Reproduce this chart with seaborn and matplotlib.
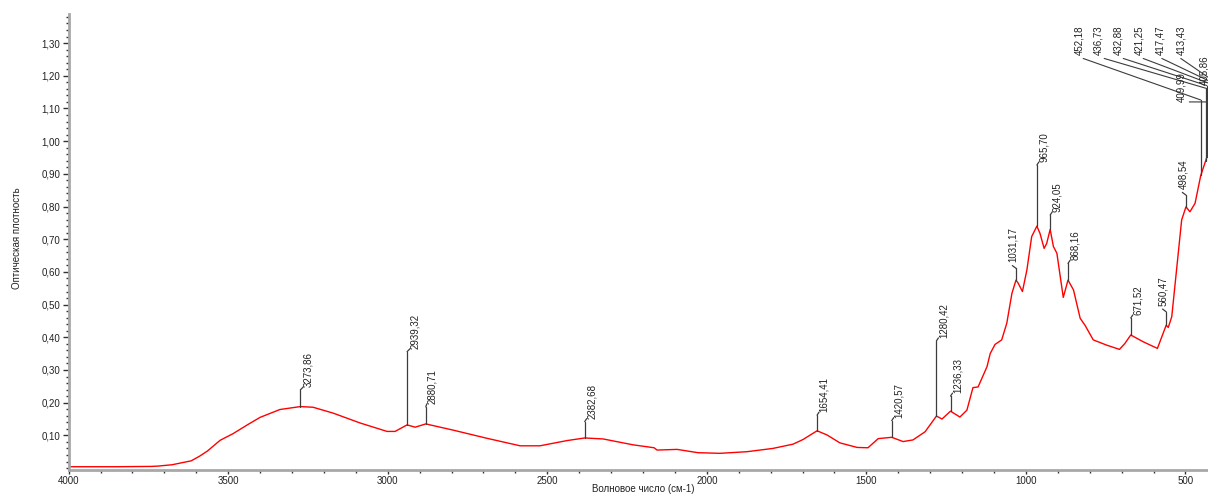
import numpy as np
import matplotlib
matplotlib.use("Agg")
import matplotlib.pyplot as plt
import seaborn as sns
from matplotlib.ticker import MultipleLocator, FixedLocator, FuncFormatter

# ---------------------------------------------- [ data ] ----------------------------------------------
wavenumber = [4000, 3850, 3740, 3720, 3676, 3616, 3590, 3565, 3525, 3505, 3485, 3440, 3400, 3338,
              3273.86, 3234, 3171, 3087, 3002, 2977, 2939.32, 2914, 2880.71, 2795, 2689, 2585, 2523,
              2438, 2382.68, 2325, 2231, 2165, 2156, 2093, 2028, 1959, 1874, 1793, 1730, 1699,
              1654.41, 1623, 1583, 1529, 1495, 1463, 1420.57, 1385, 1354, 1316, 1280.42, 1263,
              1236.33, 1207, 1185, 1166, 1150, 1122, 1112, 1097, 1076, 1060, 1044, 1031.17, 1024,
              1011, 997, 982, 965.70, 956, 943, 935, 924.05, 914, 903, 883, 868.16, 851, 830, 815,
              789, 747, 707, 690, 671.52, 632, 588, 574, 560.47, 554, 543, 527, 512, 498.54, 486,
              470, 452.18, 436.73, 432.88, 421.25, 417.47, 413.43, 409.99, 405.86, 400]
absorbance = [0.004, 0.004, 0.005, 0.006, 0.010, 0.022, 0.036, 0.052, 0.085, 0.095, 0.105, 0.132,
              0.155, 0.179, 0.188, 0.186, 0.168, 0.138, 0.112, 0.112, 0.132, 0.125, 0.135, 0.116,
              0.091, 0.068, 0.068, 0.084, 0.092, 0.089, 0.071, 0.062, 0.055, 0.057, 0.047, 0.045,
              0.050, 0.060, 0.073, 0.087, 0.114, 0.101, 0.077, 0.063, 0.062, 0.090, 0.094, 0.081,
              0.086, 0.111, 0.159, 0.150, 0.174, 0.156, 0.177, 0.246, 0.248, 0.310, 0.350, 0.378,
              0.392, 0.443, 0.534, 0.575, 0.565, 0.540, 0.606, 0.708, 0.740, 0.718, 0.672, 0.687,
              0.730, 0.678, 0.657, 0.522, 0.575, 0.545, 0.458, 0.437, 0.392, 0.376, 0.363, 0.381,
              0.407, 0.386, 0.366, 0.402, 0.437, 0.430, 0.463, 0.616, 0.759, 0.799, 0.784, 0.810,
              0.895, 0.940, 0.952, 0.985, 0.995, 1.005, 1.012, 1.020, 1.030]

peaks = [3273.86, 2939.32, 2880.71, 2382.68, 1654.41, 1420.57, 1280.42, 1236.33, 1031.17,
         965.70, 924.05, 868.16, 671.52, 560.47, 498.54]
group_peaks = [452.18, 436.73, 432.88, 421.25, 417.47, 413.43, 409.99, 405.86]

x_ticks = [4000, 3500, 3000, 2500, 2000, 1500, 1000, 500]
y_ticks = [0.10, 0.20, 0.30, 0.40, 0.50, 0.60, 0.70, 0.80, 0.90, 1.00, 1.10, 1.20, 1.30]

# ------------------------------------------ [ label layout ] ------------------------------------------
label_top = [0.239, 0.356, 0.187, 0.142, 0.162, 0.145, 0.389, 0.220, 0.611, 0.927, 0.774, 0.626,
             0.459, 0.478, 0.835]
label_dx = [8, 8, 6, 7, 7, 7, 7, 7, -3, 7, 7, 7, 7, -3, -3]
label_dy = [3, 3, 3, 3, 3, 3, 3, 3, 6, 3, 3, 3, 3, 6, 6]

group_top = [1.126, 1.162, 1.170, 1.175, 1.180, 1.185, 1.120, 1.171]
group_text_x = [834, 774, 711, 644, 580, 514, 514, 442]
group_text_y = [1.263, 1.263, 1.263, 1.263, 1.263, 1.263, 1.120, 1.171]
group_relpos = [(0, 0), (0, 0), (0, 0), (0, 0), (0, 0), (0, 0), (1, 0), (0.5, 0)]

# ------------------------------------------------ [ plot ] ---------------------------------------------
sns.set_theme(style="white")
plt.rcParams["font.family"] = ["Liberation Sans", "DejaVu Sans"]

W, H = 1208, 496
fig = plt.figure(figsize=(W / 100, H / 100), dpi=100)
ax = fig.add_axes([68.6 / W, 26 / H, 1148.8 / W, 456 / H])

sns.lineplot(x=wavenumber, y=absorbance, color="#ff0000", lw=1, ax=ax, estimator=None, sort=False)

ax.set_xlim(4000, 400)
ax.set_ylim(-0.006, 1.389)

wn_asc = np.array(wavenumber)[::-1]
ab_asc = np.array(absorbance)[::-1]
lead = "#3c3c3c"
txt = "#222222"

def fmt(v):
    return "{0:.2f}".format(v).replace(".", ",")

for p, top, dx, dy in zip(peaks, label_top, label_dx, label_dy):
    y0 = np.interp(p, wn_asc, ab_asc)
    ax.plot([p, p], [y0, top], color=lead, lw=0.9)
    ax.annotate(fmt(p), xy=(p, top), xytext=(dx, dy), textcoords="offset pixels",
                rotation=90, ha="center", va="bottom", fontsize=7, color=txt,
                arrowprops=dict(arrowstyle="-", color=lead, lw=0.9, shrinkA=0, shrinkB=0, relpos=(0, 0)))

for p, top, tx, ty, rp in zip(group_peaks, group_top, group_text_x, group_text_y, group_relpos):
    y0 = np.interp(p, wn_asc, ab_asc)
    ax.plot([p, p], [y0, top], color=lead, lw=0.9)
    ax.annotate(fmt(p), xy=(p, top), xytext=(tx, ty), textcoords="data",
                rotation=90, ha="center", va="bottom", fontsize=7, color=txt,
                arrowprops=dict(arrowstyle="-", color=lead, lw=0.8, shrinkA=0, shrinkB=0, relpos=rp))

# axes styling
ax.xaxis.set_major_locator(FixedLocator(x_ticks))
ax.xaxis.set_minor_locator(MultipleLocator(100))
ax.xaxis.set_major_formatter(FuncFormatter(lambda v, pos: "{0:d}".format(int(round(v)))))
ax.yaxis.set_major_locator(FixedLocator(y_ticks))
ax.yaxis.set_minor_locator(MultipleLocator(0.02))
ax.yaxis.set_major_formatter(FuncFormatter(lambda v, pos: fmt(v)))

for side in ["top", "right"]:
    ax.spines[side].set_visible(False)
for side in ["left", "bottom"]:
    ax.spines[side].set_color("#a8a8a8")
    ax.spines[side].set_linewidth(2)

ax.tick_params(which="both", direction="out", color="#333333", labelsize=7, labelcolor=txt)
ax.tick_params(axis="y", which="major", length=4, width=1, pad=2, left=True)
ax.tick_params(axis="y", which="minor", length=2, width=1, left=True)
ax.tick_params(axis="x", which="major", length=3, width=1, pad=1.5, bottom=True)
ax.tick_params(axis="x", which="minor", length=2, width=1, bottom=True)

ax.set_xlabel("Волновое число (см-1)", fontsize=7, color=txt)
ax.set_ylabel("Оптическая плотность", fontsize=7, color=txt)
ax.xaxis.set_label_coords(0.5, -0.0307)
ax.yaxis.set_label_coords(-0.0406, 0.509)

fig.savefig("out.png", dpi=100)
